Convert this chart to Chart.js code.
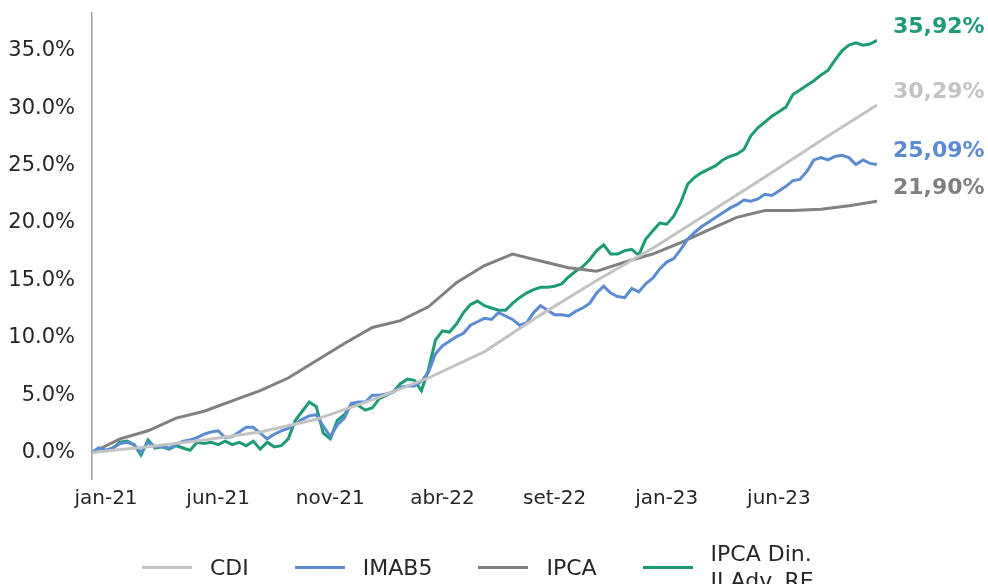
<!DOCTYPE html>
<html lang="pt-BR">
<head>
<meta charset="utf-8">
<title>Rentabilidade acumulada</title>
<script src="https://cdn.jsdelivr.net/npm/chart.js@4.4.1/dist/chart.umd.min.js"></script>
<style>
  html, body { margin: 0; padding: 0; background: #fff; overflow: hidden; }
  #wrap { position: relative; width: 988px; height: 584px; }
  #legend {
    position: absolute; left: 142px; top: 540px; height: 54px;
    display: flex; align-items: center;
    font-family: 'DejaVu Sans', Verdana, sans-serif; font-size: 22px; color: #262626;
  }
  .item { display: flex; align-items: center; margin-right: 46px; }
  .swatch { width: 50px; height: 3px; margin-right: 18px; }
  .item span { line-height: 27px; white-space: pre-line; }
</style>
</head>
<body>
<div id="wrap">
  <canvas id="chart" width="988" height="584"></canvas>
  <div id="legend"></div>
</div>
<script>
// eixo x: indice do ponto (amostra ~ a cada 7px da serie diaria)
const tickLabels = ['jan-21', 'jun-21', 'nov-21', 'abr-22', 'set-22', 'jan-23', 'jun-23'];
const tickPos = [2, 18, 34, 50, 66, 82, 98];
const yTicks = [0, 5, 10, 15, 20, 25, 30, 35];

const seriesNames = ['CDI', 'IMAB5', 'IPCA', 'IPCA Din.\nII Adv. RE'];
const seriesColors = ['#c3c3c3', '#5b8bd3', '#808080', '#1f9a77'];

// CDI: um valor a cada 8 indices
const cdiStep = 8;
const cdi = [0.0, 0.5, 1.1, 1.8, 2.9, 4.6, 6.5, 8.8, 12.0, 15.0, 17.8, 20.9, 24.0, 27.2, 30.29];

// IPCA: um valor a cada 4 indices
const ipcaStep = 4;
const ipca = [0.0, 1.2, 1.9, 3.0, 3.6, 4.5, 5.4, 6.5, 8.0, 9.5, 10.9, 11.5, 12.7, 14.8, 16.3,
  17.3, 16.7, 16.1, 15.8, 16.6, 17.3, 18.3, 19.4, 20.5, 21.1, 21.1, 21.2, 21.5, 21.9];

const imab5 = [
  0.0, 0.4, 0.2, 0.4, 0.8, 0.9, 0.7, 0.0, 0.9, 0.5,
  0.5, 0.4, 0.7, 1.0, 1.1, 1.3, 1.6, 1.8, 1.9, 1.3,
  1.4, 1.8, 2.2, 2.2, 1.7, 1.2, 1.6, 1.9, 2.1, 2.5,
  2.9, 3.2, 3.3, 2.3, 1.4, 2.4, 3.0, 4.3, 4.4, 4.4,
  5.0, 5.0, 5.1, 5.3, 5.7, 5.8, 5.8, 6.2, 7.0, 8.6,
  9.3, 9.7, 10.1, 10.4, 11.1, 11.4, 11.7, 11.6, 12.2, 11.9,
  11.6, 11.1, 11.3, 12.2, 12.8, 12.4, 12.0, 12.0, 11.9, 12.3,
  12.6, 13.0, 13.9, 14.5, 13.9, 13.6, 13.5, 14.3, 14.0, 14.7,
  15.2, 16.0, 16.6, 16.9, 17.7, 18.6, 19.2, 19.7, 20.1, 20.5,
  20.9, 21.3, 21.6, 22.0, 21.9, 22.1, 22.5, 22.4, 22.8, 23.2,
  23.7, 23.8, 24.5, 25.5, 25.7, 25.5, 25.8, 25.9, 25.7, 25.1,
  25.5, 25.2, 25.09
];

const ipcaDin = [
  0.0, 0.4, 0.2, 0.4, 0.9, 1.0, 0.7, -0.2, 1.1, 0.4,
  0.5, 0.3, 0.6, 0.4, 0.2, 0.9, 0.8, 0.9, 0.7, 1.0,
  0.7, 0.9, 0.6, 1.0, 0.3, 0.9, 0.5, 0.6, 1.2, 2.8,
  3.6, 4.4, 4.0, 1.7, 1.2, 2.8, 3.3, 4.2, 4.1, 3.7,
  3.9, 4.7, 5.0, 5.3, 6.0, 6.4, 6.3, 5.4, 7.2, 9.8,
  10.6, 10.5, 11.2, 12.2, 12.9, 13.2, 12.8, 12.6, 12.4, 12.4,
  13.0, 13.5, 13.9, 14.2, 14.4, 14.4, 14.5, 14.7, 15.3, 15.8,
  16.2, 16.8, 17.6, 18.1, 17.3, 17.3, 17.6, 17.7, 17.2, 18.6,
  19.3, 20.0, 19.9, 20.6, 21.8, 23.4, 24.0, 24.4, 24.7, 25.0,
  25.5, 25.8, 26.0, 26.4, 27.6, 28.3, 28.8, 29.3, 29.7, 30.1,
  31.2, 31.6, 32.0, 32.4, 32.9, 33.3, 34.2, 35.0, 35.5, 35.7,
  35.5, 35.6, 35.92
];

const yMin = -2.3;
const yMax = 38.3;
const lastIndex = imab5.length - 1;

function toPoints(values, step) {
  return values.map(function (v, i) { return { x: i * step, y: v }; });
}

function makeDataset(idx, values, step) {
  return {
    label: seriesNames[idx],
    data: toPoints(values, step),
    borderColor: seriesColors[idx],
    backgroundColor: seriesColors[idx],
    borderWidth: 3,
    pointRadius: 0,
    tension: 0,
    fill: false
  };
}

// rotulo do ultimo valor a direita de cada serie
const endLabels = {
  id: 'endLabels',
  afterDatasetsDraw(chart) {
    const ctx = chart.ctx;
    ctx.save();
    ctx.font = 'bold 22px "DejaVu Sans", Verdana, sans-serif';
    ctx.textAlign = 'left';
    ctx.textBaseline = 'middle';
    chart.data.datasets.forEach(function (ds, i) {
      const meta = chart.getDatasetMeta(i);
      const last = meta.data[meta.data.length - 1];
      const value = ds.data[ds.data.length - 1].y;
      ctx.fillStyle = ds.borderColor;
      ctx.fillText(value.toFixed(2).replace('.', ',') + '%', chart.chartArea.right + 16, last.y - 13);
    });
    ctx.restore();
  }
};

document.addEventListener('DOMContentLoaded', function () {
  Chart.defaults.font.family = "'DejaVu Sans', Verdana, sans-serif";
  Chart.defaults.color = '#262626';

  const ctx = document.getElementById('chart').getContext('2d');
  new Chart(ctx, {
    type: 'line',
    data: {
      datasets: [
        makeDataset(0, cdi, cdiStep),
        makeDataset(1, imab5, 1),
        makeDataset(2, ipca, ipcaStep),
        makeDataset(3, ipcaDin, 1)
      ]
    },
    options: {
      responsive: false,
      animation: false,
      layout: { padding: { left: 0, top: 13, right: 111, bottom: 75 } },
      plugins: {
        legend: { display: false },
        tooltip: { enabled: false }
      },
      scales: {
        x: {
          type: 'linear',
          min: 0,
          max: lastIndex,
          grid: { display: false, drawTicks: false },
          border: { display: false },
          ticks: {
            autoSkip: false,
            maxRotation: 0,
            padding: 8,
            font: { size: 20 },
            callback: function (value) { return tickLabels[tickPos.indexOf(value)]; }
          },
          afterBuildTicks: function (axis) {
            axis.ticks = tickPos.map(function (v) { return { value: v }; });
          },
          afterFit: function (scale) {
            scale.height = 30;
            scale.paddingLeft = 0;
            scale.paddingRight = 0;
          }
        },
        y: {
          min: yMin,
          max: yMax,
          grid: { display: false, drawTicks: false },
          border: { display: true, color: '#a0a0a0', width: 1.5 },
          ticks: {
            padding: 17,
            font: { size: 21 },
            callback: function (value) { return value.toFixed(1) + '%'; }
          },
          afterBuildTicks: function (axis) {
            axis.ticks = yTicks.map(function (v) { return { value: v }; });
          },
          afterFit: function (scale) {
            scale.width = 92;
            scale.paddingTop = 0;
            scale.paddingBottom = 0;
          }
        }
      }
    },
    plugins: [endLabels]
  });

  // legenda em HTML (o ultimo nome quebra em duas linhas)
  const legend = document.getElementById('legend');
  seriesNames.forEach(function (name, i) {
    const item = document.createElement('div');
    item.className = 'item';
    const swatch = document.createElement('div');
    swatch.className = 'swatch';
    swatch.style.background = seriesColors[i];
    const text = document.createElement('span');
    text.textContent = name;
    item.appendChild(swatch);
    item.appendChild(text);
    legend.appendChild(item);
  });
});
</script>
</body>
</html>
